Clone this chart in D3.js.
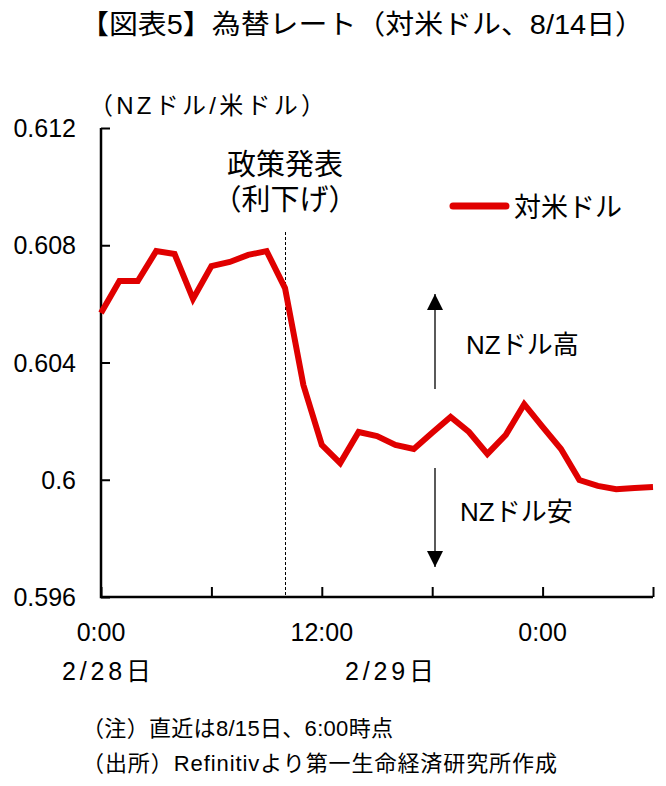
<!DOCTYPE html>
<html>
<head>
<meta charset="utf-8">
<script src="https://cdn.jsdelivr.net/npm/d3@7"></script>
<style>
  body { margin: 0; background: #fff; }
  text { font-family: "Liberation Sans", "Noto Sans CJK JP", sans-serif; fill: #000; }
</style>
</head>
<body>
<svg id="chartSVG" width="666" height="786"></svg>
<script>
// hours from 2/28 0:00, hourly
var hours = d3.range(0, 31);
var rates = [0.60569, 0.60678, 0.60678, 0.60780, 0.60770, 0.60617, 0.60729, 0.60743,
  0.60767, 0.60780, 0.60654, 0.60323, 0.60119, 0.60057, 0.60163, 0.60149,
  0.60119, 0.60105, 0.60160, 0.60214, 0.60163, 0.60088, 0.60153, 0.60258,
  0.60180, 0.60105, 0.59999, 0.59979, 0.59968, 0.59972, 0.59975];
var yTicks = [0.596, 0.6, 0.604, 0.608, 0.612];
var xTicks = [0, 6, 12, 18, 24, 30];
var xTickLabels = {0: '0:00', 12: '12:00', 24: '0:00'};
var dateLabels = ['2/28日', '2/29日'];
var policyHour = 10;

var svg = d3.select('#chartSVG');
var plotLeft = 101, plotRight = 653, plotTop = 128, plotBottom = 597;

var x = d3.scaleLinear().domain([0, 30]).range([plotLeft, plotRight]);
var y = d3.scaleLinear().domain([0.596, 0.612]).range([plotBottom, plotTop]);

// title
svg.append('text')
  .attr('x', 80).attr('y', 34)
  .attr('textLength', 564)
  .attr('lengthAdjust', 'spacingAndGlyphs')
  .style('font-size', '27px')
  .text('【図表5】為替レート（対米ドル、8/14日）');

svg.append('text')
  .attr('x', 89).attr('y', 114)
  .attr('textLength', 236)
  .attr('lengthAdjust', 'spacing')
  .style('font-size', '24px')
  .text('（NZドル/米ドル）');

// y axis
var yAxis = d3.axisRight(y).tickValues(yTicks).tickSize(9).tickFormat('');
var yg = svg.append('g').attr('transform', 'translate(' + plotLeft + ',0)').call(yAxis);
yg.select('.domain').remove();
yg.selectAll('line').attr('stroke', '#000').attr('stroke-width', 2);

svg.selectAll('.ylab')
  .data(yTicks)
  .enter()
  .append('text')
  .attr('class', 'ylab')
  .attr('x', 76)
  .attr('y', function(d) { return y(d) + 9; })
  .attr('text-anchor', 'end')
  .style('font-size', '25px')
  .text(function(d) { return String(+d.toFixed(3)); });

// x axis ticks (point up)
var xAxis = d3.axisTop(x).tickValues(xTicks).tickSize(10).tickFormat('');
var xg = svg.append('g').attr('transform', 'translate(0,' + plotBottom + ')').call(xAxis);
xg.select('.domain').remove();
xg.selectAll('line').attr('stroke', '#000').attr('stroke-width', 2);

svg.append('path')
  .attr('d', 'M' + plotLeft + ',' + plotTop + 'V' + plotBottom + 'H' + plotRight)
  .attr('fill', 'none')
  .attr('stroke', '#000')
  .attr('stroke-width', 2.5);

svg.selectAll('.xlab')
  .data(xTicks.filter(function(d) { return xTickLabels[d]; }))
  .enter()
  .append('text')
  .attr('class', 'xlab')
  .attr('x', function(d) { return x(d); })
  .attr('y', 641)
  .attr('text-anchor', 'middle')
  .style('font-size', '25px')
  .text(function(d) { return xTickLabels[d]; });

svg.selectAll('.dlab')
  .data(dateLabels)
  .enter()
  .append('text')
  .attr('class', 'dlab')
  .attr('x', function(d, i) { return i === 0 ? 62 : 345; })
  .attr('y', 680)
  .attr('textLength', 89)
  .attr('lengthAdjust', 'spacing')
  .style('font-size', '25px')
  .text(function(d) { return d; });

// policy announcement line
svg.append('line')
  .attr('x1', Math.round(x(policyHour)) + 0.5).attr('x2', Math.round(x(policyHour)) + 0.5)
  .attr('y1', 232).attr('y2', plotBottom)
  .attr('stroke', '#000')
  .attr('stroke-width', 1)
  .attr('stroke-dasharray', '3,2');

svg.append('text')
  .attr('x', x(policyHour)).attr('y', 175)
  .attr('text-anchor', 'middle')
  .style('font-size', '29px')
  .text('政策発表');
svg.append('text')
  .attr('x', x(policyHour)).attr('y', 210)
  .attr('text-anchor', 'middle')
  .style('font-size', '29px')
  .text('（利下げ）');

// rate line
var line = d3.line()
  .x(function(d, i) { return x(hours[i]); })
  .y(function(d) { return y(d); });

svg.append('path')
  .datum(rates)
  .attr('d', line)
  .attr('fill', 'none')
  .attr('stroke', '#e00000')
  .attr('stroke-width', 6)
  .attr('stroke-linejoin', 'miter');

// legend
svg.append('line')
  .attr('x1', 453).attr('x2', 506)
  .attr('y1', 206).attr('y2', 206)
  .attr('stroke', '#e00000')
  .attr('stroke-width', 7)
  .attr('stroke-linecap', 'round');
svg.append('text')
  .attr('x', 514).attr('y', 217)
  .style('font-size', '27px')
  .text('対米ドル');

// arrows
var defs = svg.append('defs');
defs.append('marker')
  .attr('id', 'arrowhead')
  .attr('viewBox', '0 0 10 10')
  .attr('refX', 10).attr('refY', 5)
  .attr('markerWidth', 16).attr('markerHeight', 16)
  .attr('markerUnits', 'userSpaceOnUse')
  .attr('orient', 'auto')
  .append('path')
  .attr('d', 'M0,0L10,5L0,10Z')
  .attr('fill', '#000');

svg.append('line')
  .attr('x1', 435).attr('x2', 435)
  .attr('y1', 389).attr('y2', 294)
  .attr('stroke', '#000').attr('stroke-width', 1.3)
  .attr('marker-end', 'url(#arrowhead)');
svg.append('line')
  .attr('x1', 435).attr('x2', 435)
  .attr('y1', 468).attr('y2', 567)
  .attr('stroke', '#000').attr('stroke-width', 1.3)
  .attr('marker-end', 'url(#arrowhead)');

svg.append('text')
  .attr('x', 466).attr('y', 354)
  .style('font-size', '26px')
  .text('NZドル高');
svg.append('text')
  .attr('x', 460).attr('y', 521)
  .style('font-size', '26px')
  .text('NZドル安');

// notes
svg.append('text')
  .attr('x', 82).attr('y', 736)
  .attr('textLength', 311)
  .attr('lengthAdjust', 'spacing')
  .style('font-size', '22px')
  .text('（注）直近は8/15日、6:00時点');
svg.append('text')
  .attr('x', 82).attr('y', 771)
  .attr('textLength', 475)
  .attr('lengthAdjust', 'spacing')
  .style('font-size', '22px')
  .text('（出所）Refinitivより第一生命経済研究所作成');
</script>
</body>
</html>
